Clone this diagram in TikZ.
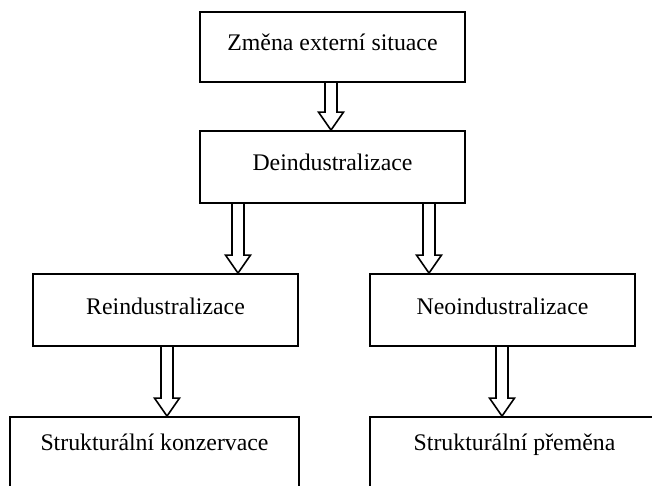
\documentclass[tikz,border=0pt]{standalone}
\usepackage{fontspec}
\setmainfont{Liberation Serif}
\usetikzlibrary{calc}
\tikzset{
  box/.style={draw, line width=1.8pt, inner sep=0pt, minimum width=265, minimum height=72,
    font=\fontsize{23.8}{28}\selectfont, text height=16pt, text depth=8pt},
  lowbox/.style={box, minimum width=289, minimum height=83, text depth=33pt},
  arrline/.style={draw, line width=1.6pt, line join=miter}
}
\newcommand{\hollowarr}[3]{%
  \draw[arrline] let \p1=(#2.south), \p2=(#3.north) in
    (#1pt-6pt,\y1) -- (#1pt-6pt,\y2+18pt) -- (#1pt-12.5pt,\y2+18pt) -- (#1pt,\y2)
    -- (#1pt+12.5pt,\y2+18pt) -- (#1pt+6pt,\y2+18pt) -- (#1pt+6pt,\y1);}
\begin{document}
\begin{tikzpicture}[x=1pt,y=-1pt]
\useasboundingbox (0,0) rectangle (652,486);
\node[box, minimum height=70] (b1) at (332.5,47) {Změna externí situace};
\node[box] (b2) at (332.5,167) {Deindustralizace};
\node[box] (b3) at (165.5,310) {Reindustralizace};
\node[box] (b4) at (502.5,310) {Neoindustralizace};
\node[lowbox] (b5) at (154.5,458.5) {Strukturální konzervace};
\node[lowbox] (b6) at (514.5,458.5) {Strukturální přeměna};
\hollowarr{331}{b1}{b2}
\hollowarr{238}{b2}{b3}
\hollowarr{429}{b2}{b4}
\hollowarr{167}{b3}{b5}
\hollowarr{502}{b4}{b6}
\end{tikzpicture}
\end{document}
